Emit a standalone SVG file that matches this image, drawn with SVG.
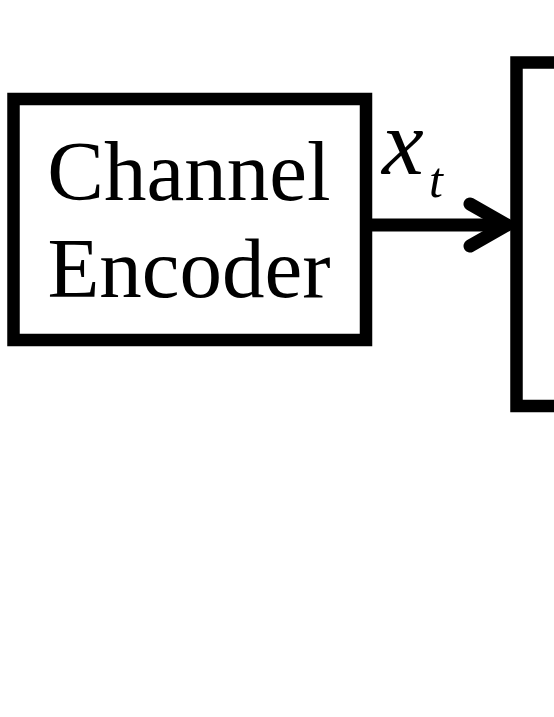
<svg xmlns="http://www.w3.org/2000/svg" width="554" height="717" viewBox="0 0 554 717">
<style>
.box{fill:none;stroke:#000;stroke-width:12.5}
.lbl{font-family:"Liberation Serif","Times New Roman",serif;font-size:85px;fill:#000}
.it{font-family:"Liberation Serif","Times New Roman",serif;font-style:italic;fill:#000}
.conn{fill:none;stroke:#000;stroke-width:13;stroke-linecap:round;stroke-linejoin:round}
</style>
<rect width="554" height="717" fill="#fff"/>
<g id="channel-encoder">
<rect class="box" x="13.5" y="99" width="352.5" height="241"/>
<text class="lbl" x="189" y="200" text-anchor="middle">Channel</text>
<text class="lbl" x="189" y="297" text-anchor="middle">Encoder</text>
</g>
<g id="channel">
<rect class="box" x="516.5" y="62.5" width="80" height="343.5"/>
</g>
<g id="connectors">
<line class="conn" x1="372" y1="225" x2="506" y2="225" stroke-linecap="butt"/>
<polyline class="conn" points="470,204 507,225 470,246"/>
<text class="it" x="382" y="174" font-size="94">x</text>
<text class="it" x="429" y="197" font-size="50">t</text>
</g>
</svg>
